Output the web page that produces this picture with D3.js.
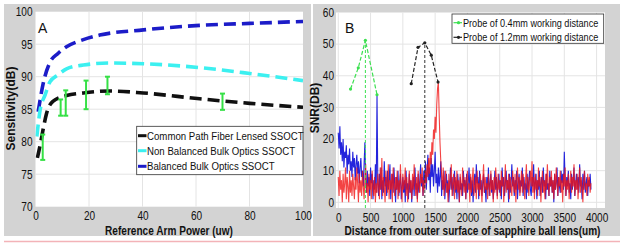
<!DOCTYPE html>
<html><head><meta charset="utf-8">
<script src="https://cdn.jsdelivr.net/npm/d3@7"></script>
<style>
html,body{margin:0;padding:0;background:#fff;}
svg{display:block;}
text{font-family:"Liberation Sans",Arial,sans-serif;fill:#111;}
</style></head>
<body>
<svg id="c" width="624" height="246"></svg>
<script>
// ---------- Panel A data ----------
const aTicksX = [0, 20, 40, 60, 80, 100];
const aTicksY = [70, 75, 80, 85, 90, 95, 100];
const balancedX = [1, 2.9, 5.4, 8.5, 11.6, 17.9, 24, 40.3, 61.4, 80.1, 100];
const balancedY = [84.6, 89.0, 92.2, 93.6, 94.6, 95.7, 96.4, 97.2, 97.9, 98.2, 98.5];
const nonBalancedX = [0.5, 1.7, 3.6, 5.4, 8.5, 11.6, 17.9, 27.8, 40.3, 61.4, 80.1, 100];
const nonBalancedY = [80.8, 84.8, 87.2, 89.2, 90.3, 91.2, 91.8, 92.1, 92.0, 91.4, 90.5, 89.4];
const commonX = [0.7, 1.9, 2.9, 4.1, 6.5, 11.6, 17.9, 27.8, 40.3, 61.4, 80.1, 100];
const commonY = [77.5, 79.8, 82.0, 84.3, 86.2, 87.1, 87.5, 87.8, 87.5, 86.6, 85.9, 85.3];
const errX = [2.7, 9.4, 11.3, 18.9, 26.9, 69.9];
const errLow = [77.2, 84.0, 84.0, 85.0, 87.3, 84.9];
const errHigh = [81.1, 86.5, 87.9, 89.4, 90.0, 87.4];
const aLegend = ["Common Path Fiber Lensed SSOCT", "Non Balanced Bulk Optics SSOCT", "Balanced Bulk Optics SSOCT"];

// ---------- Panel B data ----------
const bTicksX = [0, 500, 1000, 1500, 2000, 2500, 3000, 3500, 4000];
const bTicksY = [0, 10, 20, 30, 40, 50, 60];
const sampleStep = 12.5; // um between samples of the A-scan traces (8 samples per 100 um row)
const blueSNR = [
 22,17,24,15,19,13,20,11, 16,14,18,9,15,12,17,10, 13,8,16,11,14,7,12,15, 9,13,6,11,14,8,10,5,
 12,19,7,3,10,5,8,2, 11,6,9,1,7,4,12,3, 34,6,2,9,4,11,1,7, 3,13,5,8,2,10,4,7,
 12,1,6,9,3,11,5,0, 8,4,10,2,6,9,1,5, 8,3,7,0,10,4,6,1, 9,3,7,0,5,8,2,11,
 4,6,1,9,3,7,12,5, 8,2,10,6,13,4,9,15, 7,11,3,14,8,12,5,10, 16,6,9,3,11,5,8,13,
 2,7,4,10,1,6,9,3, 7,0,5,11,4,8,2,6, 10,3,7,1,9,5,0,8, 4,6,2,10,5,7,1,9,
 3,6,11,4,8,2,7,0, 5,9,3,12,6,8,1,10, 4,7,2,6,9,3,5,0, 8,4,11,2,6,9,3,7,
 1,5,10,4,8,2,6,9, 3,7,1,11,5,8,2,6, 10,4,7,0,9,3,6,12, 5,8,2,7,4,10,1,6,
 9,3,7,5,11,2,8,4, 6,1,9,3,7,10,4,2, 8,5,12,3,6,9,1,7, 4,10,2,6,8,3,11,5,
 7,1,9,4,6,2,10,5, 8,3,7,0,9,4,6,11, 2,8,5,3,10,6,9,4, 16,7,2,8,5,10,3,6,
 1,9,4,7,11,2,6,9, 4,8,3,12,5,7,1,9, 4,10,3,6,8,2,7,5, 9,4];
const redSNR = [
 8,2,10,4,7,0,9,3, 6,11,1,8,5,0,10,3, 7,2,9,5,1,8,4,11, 6,0,9,3,7,2,10,5,
 1,8,12,3,6,0,9,4, 7,1,10,5,2,8,0,6, 3,9,5,1,11,4,14,2, 8,5,0,10,6,3,12,1,
 7,4,9,0,11,5,2,8, 4,10,1,7,3,12,5,0, 9,4,6,11,2,8,0,5, 10,3,7,1,9,4,12,6,
 2,8,0,10,5,3,9,6, 11,2,7,4,10,6,12,8, 14,9,16,12,19,15,23,20, 27,22,31,36,38,28,19,13,
 9,4,11,2,7,10,3,6, 0,9,4,7,12,2,6,9, 1,8,4,10,3,7,0,9, 5,2,11,6,3,8,1,7,
 10,4,6,0,9,3,7,11, 2,5,8,1,10,4,6,2, 9,5,0,7,12,3,8,4, 6,1,9,5,2,10,4,7,
 0,8,3,11,6,1,9,4, 7,2,10,5,8,0,6,12, 3,7,4,9,1,8,5,2, 10,6,3,9,0,7,11,4,
 8,2,6,10,3,9,5,1, 7,12,4,8,2,6,10,5, 13,3,8,1,9,4,7,2, 11,5,8,0,6,10,3,7,
 1,9,4,12,6,2,8,5, 10,3,7,1,9,4,11,6, 2,8,5,10,3,7,0,9, 5,11,2,7,4,9,1,6,
 10,3,8,5,12,2,7,4, 9,1,6,11,3,8,5,0, 7,10,4,6,2,9,5,8, 3,6];
const probe04X = [190, 310, 420, 600];
const probe04Y = [35.8, 42.5, 51.2, 34.0];
const probe12X = [1130, 1235, 1340, 1440, 1545];
const probe12Y = [37.5, 49.0, 50.4, 46.5, 38.0];
const bLegend = ["Probe of 0.4mm working distance", "Probe of 1.2mm working distance"];

const svg = d3.select("#c");
const GRAY = "#d3d3d3", GRID = "#e4e4e4";

svg.append("rect").attr("x",4).attr("y",4).attr("width",307).attr("height",232).attr("fill",GRAY);
svg.append("rect").attr("x",313).attr("y",4).attr("width",307).attr("height",232).attr("fill",GRAY);
svg.append("line").attr("x1",4).attr("x2",620).attr("y1",241.5).attr("y2",241.5).attr("stroke","#f3b3b8").attr("stroke-width",1.5);

function tickText(g){ g.selectAll("text").attr("font-size",12).attr("fill","#111"); }

// ================= Panel A =================
const ax = d3.scaleLinear().domain([0,100]).range([35.5,303]);
const ay = d3.scaleLinear().domain([70,100]).range([206.7,11.7]);
const A = svg.append("g");
A.append("rect").attr("x",35.5).attr("y",11.7).attr("width",303-35.5).attr("height",206.7-11.7).attr("fill","#fff");
A.append("g").selectAll("line").data(aTicksX.slice(1,-1)).join("line")
 .attr("x1",d=>ax(d)).attr("x2",d=>ax(d)).attr("y1",11.7).attr("y2",206.7).attr("stroke",GRID);
A.append("g").selectAll("line").data(aTicksY.slice(1,-1)).join("line")
 .attr("y1",d=>ay(d)).attr("y2",d=>ay(d)).attr("x1",35.5).attr("x2",303).attr("stroke",GRID);
const axb = A.append("g").attr("transform","translate(0,206.7)")
 .call(d3.axisBottom(ax).tickValues(aTicksX).tickSize(0).tickPadding(5).tickFormat(d3.format("d")));
axb.select(".domain").remove(); tickText(axb);
const ayl = A.append("g").attr("transform","translate(35.5,0)")
 .call(d3.axisLeft(ay).tickValues(aTicksY).tickSize(0).tickPadding(3).tickFormat(d3.format("d")));
ayl.select(".domain").remove(); tickText(ayl);

A.append("clipPath").attr("id","clipA").append("rect").attr("x",35.5).attr("y",11.7).attr("width",267.5).attr("height",195);
const lineA = d3.line().curve(d3.curveMonotoneX);
const curvesA = [
 {x:balancedX,y:balancedY,c:"#1c1cc8"},
 {x:nonBalancedX,y:nonBalancedY,c:"#3cf0f0"},
 {x:commonX,y:commonY,c:"#101010"}
];
const cg = A.append("g").attr("clip-path","url(#clipA)");
curvesA.forEach(s=>{
  cg.append("path").attr("d", lineA(s.x.map((v,i)=>[ax(v),ay(s.y[i])])))
   .attr("fill","none").attr("stroke",s.c).attr("stroke-width",3.6).attr("stroke-dasharray","12,6");
});
const eg = A.append("g").attr("stroke","#35e045").attr("stroke-width",2);
errX.forEach((x,i)=>{
  eg.append("line").attr("x1",ax(x)).attr("x2",ax(x)).attr("y1",ay(errLow[i])).attr("y2",ay(errHigh[i]));
  eg.append("line").attr("x1",ax(x)-2.5).attr("x2",ax(x)+2.5).attr("y1",ay(errLow[i])).attr("y2",ay(errLow[i]));
  eg.append("line").attr("x1",ax(x)-2.5).attr("x2",ax(x)+2.5).attr("y1",ay(errHigh[i])).attr("y2",ay(errHigh[i]));
});
const lgA = A.append("g");
lgA.append("rect").attr("x",136.7).attr("y",126.3).attr("width",166.3).attr("height",48.4).attr("fill","#fff").attr("stroke","#333").attr("stroke-width",0.8);
const legColsA = ["#101010","#3cf0f0","#1c1cc8"];
const legYA = [135.7,150.7,166.3];
aLegend.forEach((t,i)=>{
  lgA.append("line").attr("x1",138).attr("x2",146.5).attr("y1",legYA[i]).attr("y2",legYA[i]).attr("stroke",legColsA[i]).attr("stroke-width",3);
  lgA.append("text").attr("x",147).attr("y",legYA[i]+4).attr("font-size",11.5).text(t);
});
A.append("text").attr("x",38).attr("y",33).attr("font-size",15.5).attr("data-sx",0.9).text("A");
A.append("text").attr("x",169).attr("y",234.5).attr("text-anchor","middle").attr("font-size",12).attr("font-weight","bold").text("Reference Arm Power (uw)");
A.append("text").attr("transform","translate(14.5,108.5) rotate(-90)").attr("text-anchor","middle").attr("font-size",12).attr("font-weight","bold").attr("data-rot",1).text("Sensitivity(dB)");

// ================= Panel B =================
const bx = d3.scaleLinear().domain([-35,4130]).range([336,605]);
const by = d3.scaleLinear().domain([-1.8,60]).range([208,12.5]);
const B = svg.append("g");
B.append("rect").attr("x",336).attr("y",12.5).attr("width",269).attr("height",195.5).attr("fill","#fff");
B.append("g").selectAll("line").data(bTicksX).join("line")
 .attr("x1",d=>bx(d)).attr("x2",d=>bx(d)).attr("y1",12.5).attr("y2",208).attr("stroke",GRID);
B.append("g").selectAll("line").data(bTicksY.slice(0,-1)).join("line")
 .attr("y1",d=>by(d)).attr("y2",d=>by(d)).attr("x1",336).attr("x2",605).attr("stroke",GRID);
const bxb = B.append("g").attr("transform","translate(0,208)")
 .call(d3.axisBottom(bx).tickValues(bTicksX).tickSize(0).tickPadding(5).tickFormat(d3.format("d")));
bxb.select(".domain").remove(); tickText(bxb);
const byl = B.append("g").attr("transform","translate(336,0)")
 .call(d3.axisLeft(by).tickValues(bTicksY).tickSize(0).tickPadding(2).tickFormat(d3.format("d")));
byl.select(".domain").remove(); tickText(byl);

B.append("clipPath").attr("id","clipB").append("rect").attr("x",336).attr("y",12.5).attr("width",269).attr("height",195.5);
const bg = B.append("g").attr("clip-path","url(#clipB)");
const lineB = d3.line();
bg.append("path").attr("d", lineB(blueSNR.map((v,i)=>[bx(i*sampleStep),by(v)])))
  .attr("fill","none").attr("stroke","#2424dc").attr("stroke-width",1.1);
bg.append("path").attr("d", lineB(redSNR.map((v,i)=>[bx(i*sampleStep),by(v)])))
  .attr("fill","none").attr("stroke","#f01414").attr("stroke-width",1.1).attr("stroke-opacity",0.8);
const pk04 = probe04Y.indexOf(d3.max(probe04Y)), pk12 = probe12Y.indexOf(d3.max(probe12Y));
bg.append("line").attr("x1",bx(probe04X[pk04])).attr("x2",bx(probe04X[pk04])).attr("y1",208).attr("y2",by(probe04Y[pk04]))
  .attr("stroke","#3ce050").attr("stroke-width",1).attr("stroke-dasharray","3,2");
bg.append("line").attr("x1",bx(probe12X[pk12])).attr("x2",bx(probe12X[pk12])).attr("y1",208).attr("y2",by(probe12Y[pk12]))
  .attr("stroke","#333").attr("stroke-width",1).attr("stroke-dasharray","3,2");
[[probe04X,probe04Y,"#3ce050"],[probe12X,probe12Y,"#222"]].forEach(([xs,ys,c])=>{
  bg.append("path").attr("d", lineB(xs.map((v,i)=>[bx(v),by(ys[i])])))
    .attr("fill","none").attr("stroke",c).attr("stroke-width",1.2).attr("stroke-dasharray","4,2");
  bg.append("g").selectAll("circle").data(xs).join("circle")
    .attr("cx",(d)=>bx(d)).attr("cy",(d,i)=>by(ys[i])).attr("r",1.6).attr("fill",c);
});
const lgB = B.append("g");
lgB.append("rect").attr("x",452).attr("y",14).attr("width",151.7).attr("height",29.3).attr("fill","#fff").attr("stroke","#333").attr("stroke-width",0.8);
const legColsB = ["#3ce050","#222"], legYB = [22.7,37.3];
bLegend.forEach((t,i)=>{
  lgB.append("line").attr("x1",453.5).attr("x2",462).attr("y1",legYB[i]).attr("y2",legYB[i]).attr("stroke",legColsB[i]).attr("stroke-width",1.2);
  lgB.append("circle").attr("cx",458.5).attr("cy",legYB[i]).attr("r",1.6).attr("fill",legColsB[i]);
  lgB.append("text").attr("x",463).attr("y",legYB[i]+4).attr("font-size",11).attr("data-sx",0.83).text(t);
});
B.append("text").attr("x",345).attr("y",33).attr("font-size",15.5).attr("data-sx",0.9).text("B");
B.append("text").attr("x",472.5).attr("y",235).attr("text-anchor","middle").attr("font-size",12).attr("font-weight","bold").text("Distance from outer surface of sapphire ball lens(um)");
B.append("text").attr("transform","translate(319,108) rotate(-90)").attr("text-anchor","middle").attr("font-size",12).attr("font-weight","bold").attr("data-rot",1).text("SNR(DB)");

// horizontal squeeze of the original figure: scale each text about its anchor point
svg.selectAll("text").each(function(){
  if (this.getAttribute("data-rot")) return;
  const sx = +(this.getAttribute("data-sx") || 0.84);
  const x = +(this.getAttribute("x") || 0), y = +(this.getAttribute("y") || 0);
  this.setAttribute("x", 0); this.setAttribute("y", 0);
  this.setAttribute("transform", `translate(${x},${y}) scale(${sx},1)`);
});
</script>
</body></html>
